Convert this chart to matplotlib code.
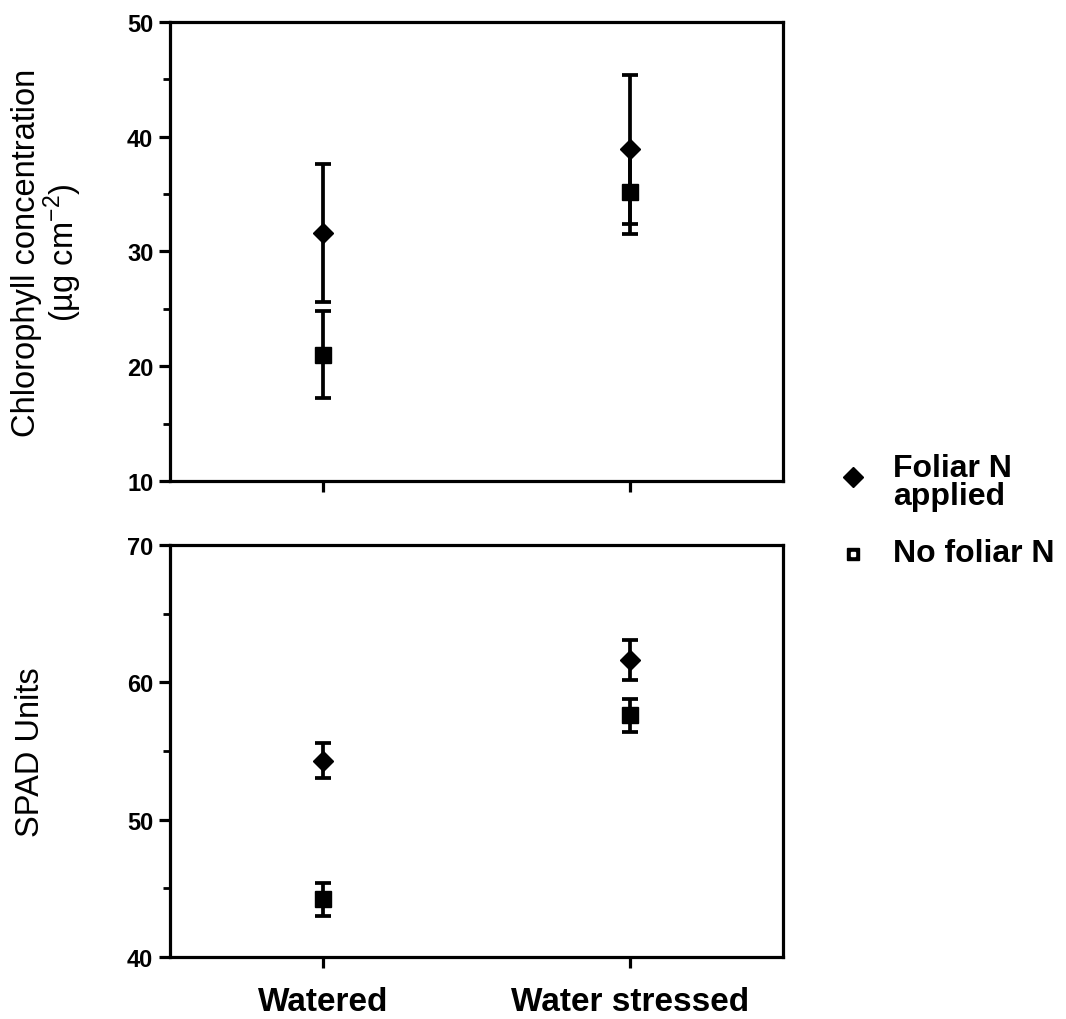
import matplotlib
matplotlib.use("Agg")
import matplotlib.pyplot as plt
from matplotlib.lines import Line2D
from matplotlib.ticker import MultipleLocator

plt.rcParams['font.family'] = ['Liberation Sans', 'DejaVu Sans']

# ---- data ----
categories = ["Watered", "Water stressed"]
x_pos = [1, 2]

chl_foliar = [31.6, 38.9]
chl_foliar_err = [6.0, 6.5]
chl_nofoliar = [21.0, 35.2]
chl_nofoliar_err = [3.8, 3.7]

spad_foliar = [54.3, 61.6]
spad_foliar_err = [1.3, 1.45]
spad_nofoliar = [44.2, 57.6]
spad_nofoliar_err = [1.2, 1.2]

legend_labels = ["Foliar N\napplied", "No foliar N"]

W, H = 1066, 1020
fig = plt.figure(figsize=(W / 100, H / 100), dpi=100)

left = 170 / W
width = (783 - 170) / W
ax1 = fig.add_axes([left, 1 - 482 / H, width, (482 - 23) / H])
ax2 = fig.add_axes([left, 1 - 958 / H, width, (958 - 546) / H])

lw = 2.7
err_kw = dict(fmt='none', ecolor='black', elinewidth=lw, capsize=5.5, capthick=lw, zorder=2)


def style(ax, ylim, major, minor, labels=False):
    ax.set_xlim(0.5, 2.5)
    ax.set_ylim(*ylim)
    ax.yaxis.set_major_locator(MultipleLocator(major))
    ax.yaxis.set_minor_locator(MultipleLocator(minor))
    ax.set_xticks(x_pos)
    for s in ax.spines.values():
        s.set_linewidth(2.3)
    ax.tick_params(axis='both', which='major', direction='out', length=8, width=2.3,
                   labelsize=17, pad=4)
    ax.tick_params(axis='x', which='major', pad=13)
    ax.tick_params(axis='y', which='minor', direction='out', length=5, width=2.0)
    ax.tick_params(axis='x', which='minor', bottom=False)
    if labels:
        ax.set_xticklabels(categories, fontsize=24, fontweight='heavy')
    else:
        ax.set_xticklabels([])
    for lab in ax.get_yticklabels():
        lab.set_fontweight('heavy')


# top panel
ax1.errorbar(x_pos, chl_foliar, yerr=chl_foliar_err, **err_kw)
ax1.errorbar(x_pos, chl_nofoliar, yerr=chl_nofoliar_err, **err_kw)
ax1.plot(x_pos, chl_foliar, linestyle='none', marker='D', markersize=10,
         color='black', zorder=3)
ax1.plot(x_pos, chl_nofoliar, linestyle='none', marker='s', markersize=11,
         color='black', zorder=3)
style(ax1, (10, 50), 10, 5)
ax1.set_ylabel("Chlorophyll concentration\n(\u00b5g cm$^{\\mathregular{-2}}$)",
               fontsize=23.5, linespacing=1.0)

# bottom panel
ax2.errorbar(x_pos, spad_foliar, yerr=spad_foliar_err, **err_kw)
ax2.errorbar(x_pos, spad_nofoliar, yerr=spad_nofoliar_err, **err_kw)
ax2.plot(x_pos, spad_foliar, linestyle='none', marker='D', markersize=10,
         color='black', zorder=3)
ax2.plot(x_pos, spad_nofoliar, linestyle='none', marker='s', markersize=11,
         color='black', zorder=3)
style(ax2, (40, 70), 10, 5, labels=True)
ax2.set_ylabel("SPAD Units", fontsize=23.5)

# y label positions
ax1.yaxis.set_label_coords(-0.140, 0.5)
ax2.yaxis.set_label_coords(-0.202, 0.5)

# legend (manual)
fig.add_artist(Line2D([853 / W], [1 - 478 / H], marker='D', markersize=10,
                      color='black', linestyle='none', transform=fig.transFigure))
fig.add_artist(Line2D([853 / W], [1 - 555 / H], marker='s', markersize=9,
                      color='black', linestyle='none', transform=fig.transFigure))
fig.add_artist(Line2D([853 / W], [1 - 555 / H], marker='s', markersize=2.5,
                      color='white', linestyle='none', transform=fig.transFigure))
fig.text(893 / W, 1 - 483 / H, legend_labels[0], fontsize=23, fontweight='heavy',
         va='center', ha='left', linespacing=0.95)
fig.text(893 / W, 1 - 554 / H, legend_labels[1], fontsize=23, fontweight='heavy',
         va='center', ha='left')

fig.savefig("out.png", dpi=100)
